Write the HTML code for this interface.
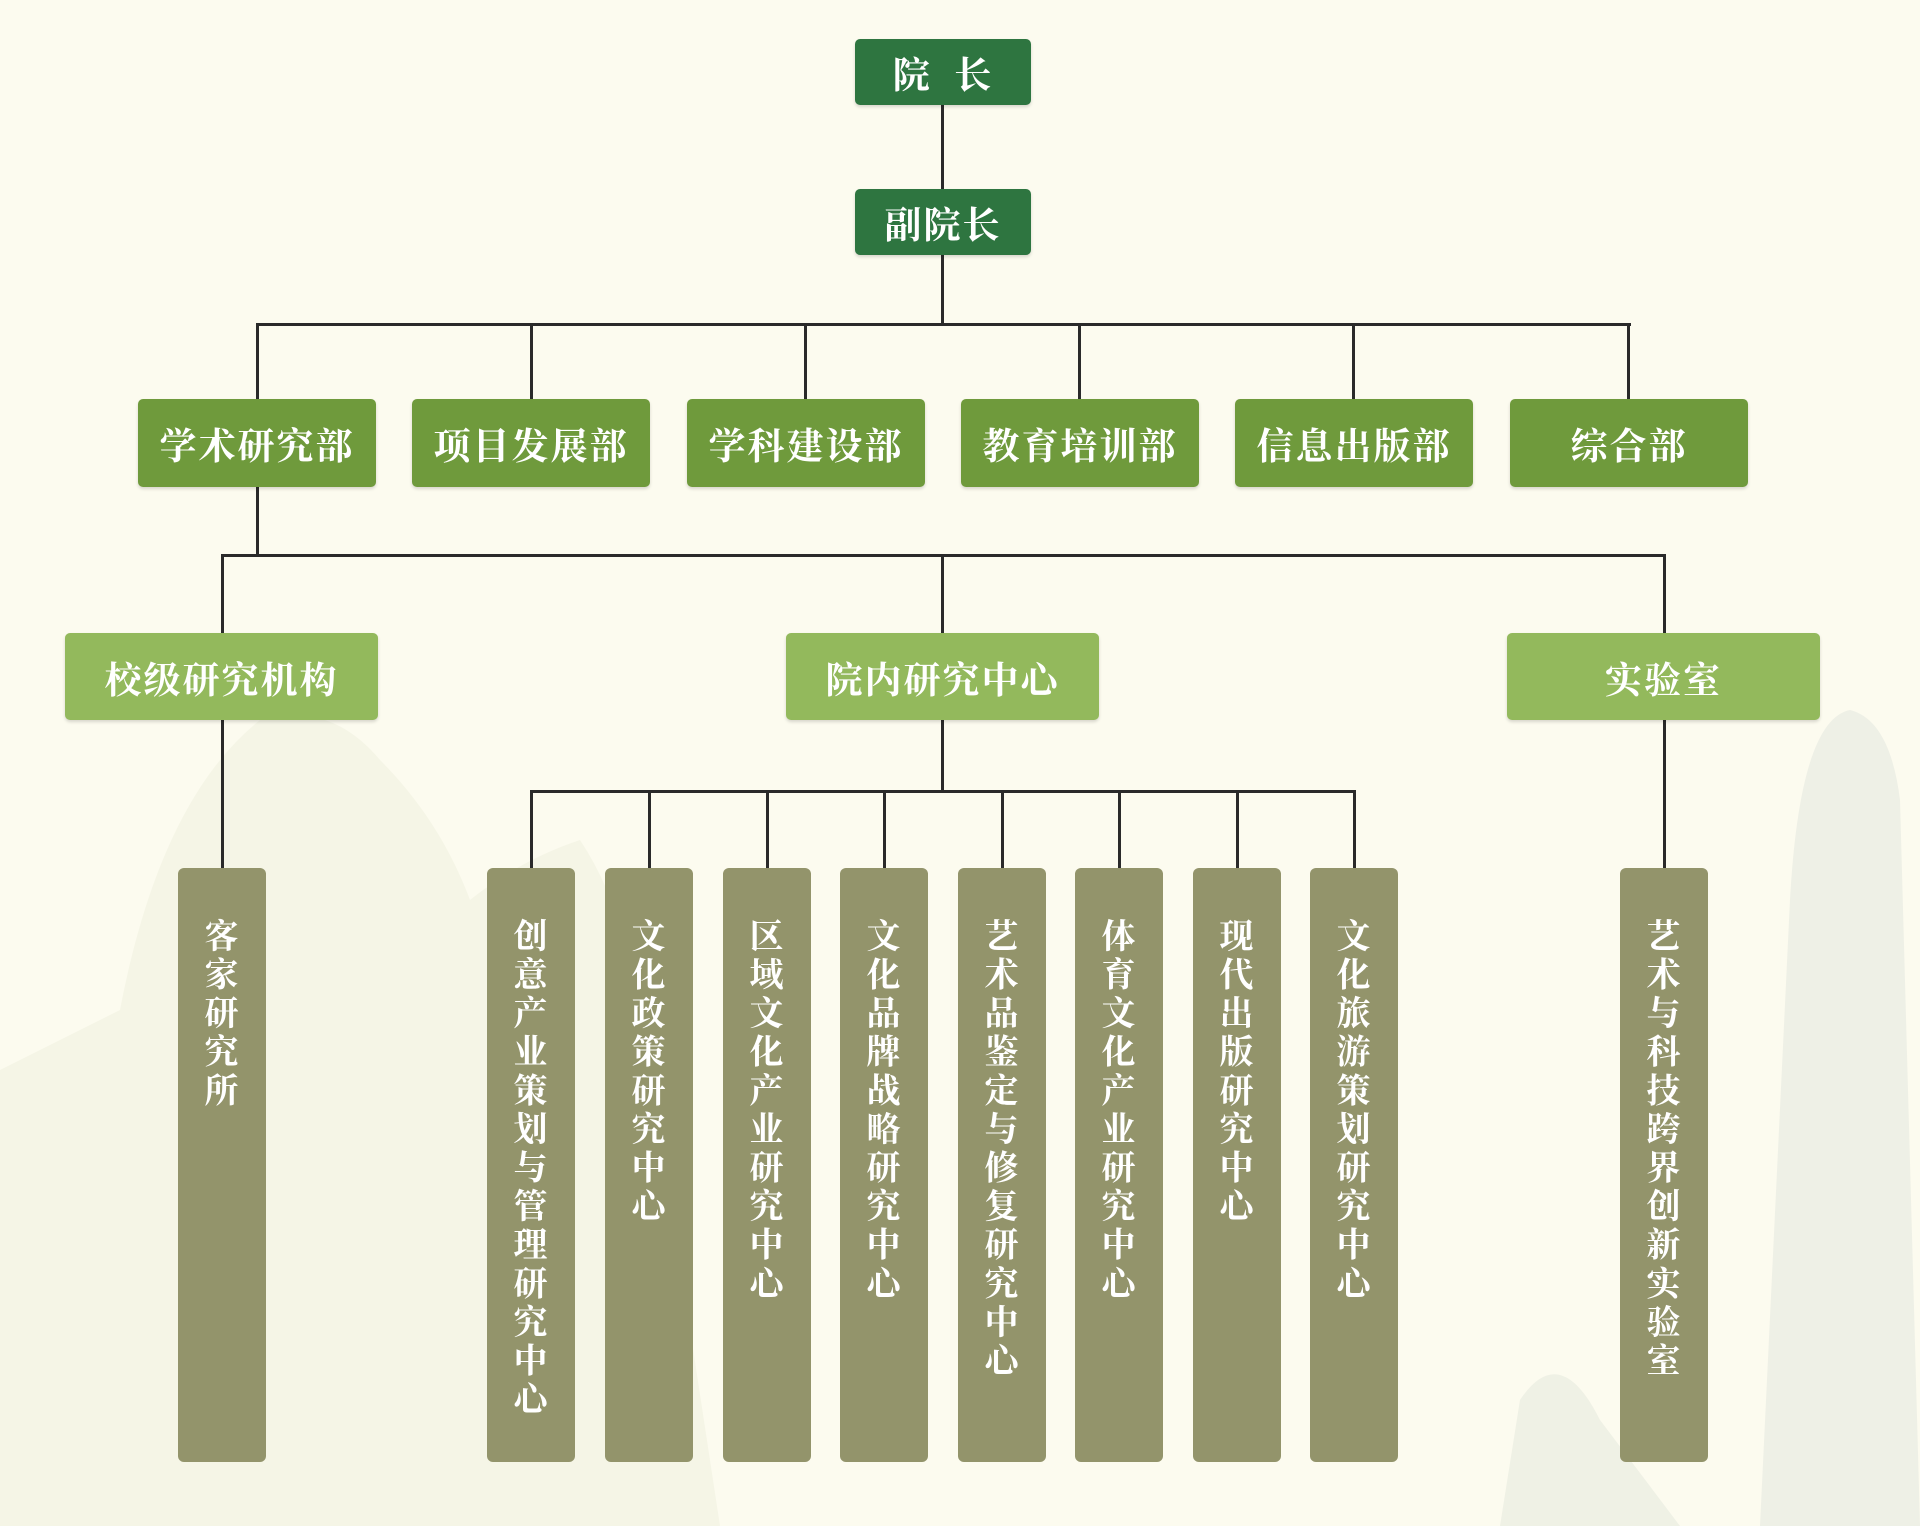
<!DOCTYPE html>
<html><head><meta charset="utf-8"><style>
body{margin:0;width:1920px;height:1526px;background:#fcfbef;position:relative;overflow:hidden;font-family:"Liberation Serif","Noto Serif CJK SC",serif;}
.b{position:absolute;color:#fff;font-weight:bold;display:flex;align-items:center;justify-content:center;border-radius:5px;box-shadow:0 2px 3px rgba(0,0,0,.15)}
.l{position:absolute;background:#2a2a2a}
.v{position:absolute;top:868px;height:594px;width:88px;background:#93946b;border-radius:6px;color:#fff;font-weight:bold;font-size:34px;letter-spacing:4.6px;line-height:78px;padding-right:10px;writing-mode:vertical-rl;text-orientation:upright;padding-top:50px;box-sizing:border-box;text-align:start}
.h{font-size:37px;letter-spacing:2px}
</style></head><body>
<svg style="position:absolute;left:0;top:0" width="1920" height="1526">
<path d="M0 1526 L0 1070 Q60 1040 120 1010 Q160 800 260 720 Q330 700 380 760 Q440 820 470 900 Q520 860 580 840 Q620 900 640 1000 L720 1526Z" fill="#e8ead8" opacity=".35"/>
<path d="M1500 1526 L1520 1400 Q1560 1340 1600 1420 L1680 1526Z" fill="#dfe4da" opacity=".45"/>
<path d="M1760 1526 L1790 900 Q1800 720 1850 710 Q1890 720 1900 800 L1920 1526Z" fill="#dde3dc" opacity=".45"/>
</svg>
<div class="l" style="left:941px;top:105px;width:3px;height:84px"></div>
<div class="l" style="left:941px;top:255px;width:3px;height:71px"></div>
<div class="l" style="left:256px;top:323px;width:1375px;height:3px"></div>
<div class="l" style="left:256px;top:323px;width:3px;height:76px"></div>
<div class="l" style="left:530px;top:323px;width:3px;height:76px"></div>
<div class="l" style="left:804px;top:323px;width:3px;height:76px"></div>
<div class="l" style="left:1078px;top:323px;width:3px;height:76px"></div>
<div class="l" style="left:1352px;top:323px;width:3px;height:76px"></div>
<div class="l" style="left:1627px;top:323px;width:3px;height:76px"></div>
<div class="l" style="left:256px;top:487px;width:3px;height:70px"></div>
<div class="l" style="left:221px;top:554px;width:1445px;height:3px"></div>
<div class="l" style="left:221px;top:554px;width:3px;height:80px"></div>
<div class="l" style="left:941px;top:554px;width:3px;height:80px"></div>
<div class="l" style="left:1663px;top:554px;width:3px;height:80px"></div>
<div class="l" style="left:221px;top:720px;width:3px;height:148px"></div>
<div class="l" style="left:1663px;top:720px;width:3px;height:148px"></div>
<div class="l" style="left:941px;top:720px;width:3px;height:72px"></div>
<div class="l" style="left:530px;top:790px;width:826px;height:3px"></div>
<div class="l" style="left:530px;top:790px;width:3px;height:78px"></div>
<div class="l" style="left:648px;top:790px;width:3px;height:78px"></div>
<div class="l" style="left:766px;top:790px;width:3px;height:78px"></div>
<div class="l" style="left:883px;top:790px;width:3px;height:78px"></div>
<div class="l" style="left:1001px;top:790px;width:3px;height:78px"></div>
<div class="l" style="left:1118px;top:790px;width:3px;height:78px"></div>
<div class="l" style="left:1236px;top:790px;width:3px;height:78px"></div>
<div class="l" style="left:1353px;top:790px;width:3px;height:78px"></div>

<div class="b h" style="left:855px;top:39px;width:176px;height:66px;background:#2e7540"><span style="white-space:pre">院  长</span></div>
<div class="b h" style="left:855px;top:189px;width:176px;height:66px;background:#2e7540">副院长</div>

<div class="b h" style="left:138px;top:399px;width:238px;height:88px;background:#6f9a3c">学术研究部</div>
<div class="b h" style="left:412px;top:399px;width:238px;height:88px;background:#6f9a3c">项目发展部</div>
<div class="b h" style="left:687px;top:399px;width:238px;height:88px;background:#6f9a3c">学科建设部</div>
<div class="b h" style="left:961px;top:399px;width:238px;height:88px;background:#6f9a3c">教育培训部</div>
<div class="b h" style="left:1235px;top:399px;width:238px;height:88px;background:#6f9a3c">信息出版部</div>
<div class="b h" style="left:1510px;top:399px;width:238px;height:88px;background:#6f9a3c">综合部</div>

<div class="b h" style="left:65px;top:633px;width:313px;height:87px;background:#93b95c">校级研究机构</div>
<div class="b h" style="left:786px;top:633px;width:313px;height:87px;background:#93b95c">院内研究中心</div>
<div class="b h" style="left:1507px;top:633px;width:313px;height:87px;background:#93b95c">实验室</div>

<div class="v" style="left:178px">客家研究所</div>
<div class="v" style="left:487px">创意产业策划与管理研究中心</div>
<div class="v" style="left:605px">文化政策研究中心</div>
<div class="v" style="left:723px">区域文化产业研究中心</div>
<div class="v" style="left:840px">文化品牌战略研究中心</div>
<div class="v" style="left:958px">艺术品鉴定与修复研究中心</div>
<div class="v" style="left:1075px">体育文化产业研究中心</div>
<div class="v" style="left:1193px">现代出版研究中心</div>
<div class="v" style="left:1310px">文化旅游策划研究中心</div>
<div class="v" style="left:1620px">艺术与科技跨界创新实验室</div>
</body></html>
